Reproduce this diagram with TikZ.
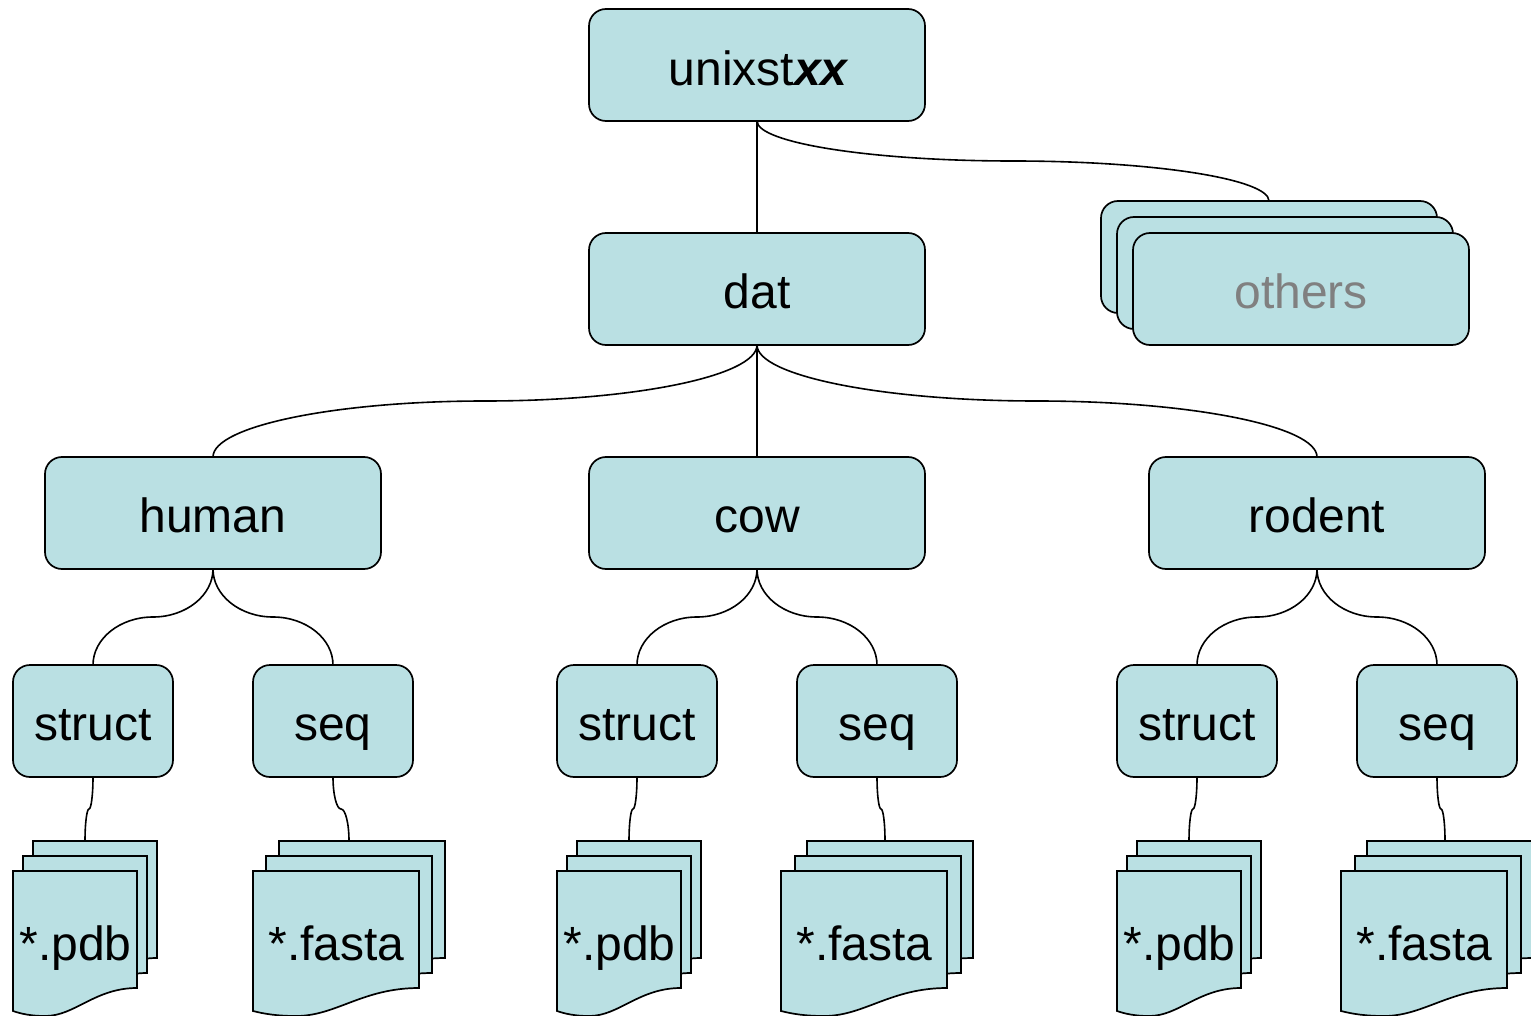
\documentclass[tikz,border=0pt]{standalone}
\usepackage{fontspec}
\setmainfont{Liberation Sans}
\usetikzlibrary{calc}
\definecolor{boxfill}{HTML}{BAE0E3}
\tikzset{
  x=0.5pt,y=-0.5pt,
  base/.style={inner sep=0pt,outer sep=0pt,align=center,font=\fontsize{24}{28}\selectfont,text height=24pt,text depth=5pt},
  box/.style={base,draw=black,fill=boxfill,line width=0.85pt,rounded corners=8.5pt},
  widebox/.style={box,minimum width=168pt,minimum height=56pt},
  smallbox/.style={box,minimum width=80pt,minimum height=56pt},
  doctext/.style={base},
  sheetline/.style={draw=black,fill=boxfill,line width=0.85pt,line join=miter},
  link/.style={draw=black,line width=0.8pt}
}
% sheet: left, top, width
\newcommand{\docsheet}[3]{%
  \begin{scope}[shift={(#1,#2)},xscale=#3]
    \path[sheetline] (0,0) -- (1,0) -- (1,117)
      .. controls (0.66,117) and (0.50,145) .. (0.26,145)
      .. controls (0.15,145) and (0.07,143) .. (0,140) -- cycle;
  \end{scope}}
% id, left, width, offset1, offset2, text, connector x
\newcommand{\docstack}[7]{%
  \docsheet{#2+#5}{841}{#3}
  \docsheet{#2+#4}{856}{#3}
  \docsheet{#2}{871}{#3}
  \node[doctext] (#1) at ({#2+#3/2+0.5},941) {#6};
  \coordinate (#1-top) at (#7,841);}
% curved connector through midpoint
\newcommand{\bend}[2]{%
  \draw[link] let \p1=($(#1)!.5!(#2)$) in
    (#1) .. controls ($(#1)!.55!(#1 |- \p1)$) and ($(\p1)!.55!(#1 |- \p1)$) .. (\p1)
    .. controls ($(\p1)!.55!(#2 |- \p1)$) and ($(#2)!.55!(#2 |- \p1)$) .. (#2);}
\begin{document}
\begin{tikzpicture}
\clip (0,0) rectangle (1531,1016);
% others stack
\node[widebox] (oth1) at (1269,257) {};
\node[widebox] (oth2) at (1285,273) {};
\node[widebox,text=black!50] (others) at (1301,289) {others};
% main boxes
\node[widebox,text depth=3.5pt] (root) at (757,65) {\hspace{2pt}unixst\textbf{\textit{xx}}};
\node[widebox] (dat) at (757,289) {dat};
\node[widebox] (human) at (213,513) {human};
\node[widebox] (cow) at (757,513) {cow};
\node[widebox] (rodent) at (1317,513) {rodent};
\node[smallbox] (s1) at (93,721) {struct};
\node[smallbox] (q1) at (333,721) {seq};
\node[smallbox] (s2) at (637,721) {struct};
\node[smallbox] (q2) at (877,721) {seq};
\node[smallbox] (s3) at (1197,721) {struct};
\node[smallbox] (q3) at (1437,721) {seq};
% documents
\docstack{p1}{13}{124}{10}{20}{*.pdb}{85}
\docstack{f1}{253}{166}{13}{26}{*.fasta}{349}
\docstack{p2}{557}{124}{10}{20}{*.pdb}{629}
\docstack{f2}{781}{166}{14}{26}{*.fasta}{885}
\docstack{p3}{1117}{124}{10}{20}{*.pdb}{1189}
\docstack{f3}{1341}{166}{14}{26}{*.fasta}{1445}
% connectors
\draw[link] (root.south) -- (dat.north);
\draw[link] (dat.south) -- (cow.north);
\bend{root.south}{oth1.north}
\bend{dat.south}{human.north}
\bend{dat.south}{rodent.north}
\bend{human.south}{s1.north}
\bend{human.south}{q1.north}
\bend{cow.south}{s2.north}
\bend{cow.south}{q2.north}
\bend{rodent.south}{s3.north}
\bend{rodent.south}{q3.north}
\bend{s1.south}{p1-top}
\bend{q1.south}{f1-top}
\bend{s2.south}{p2-top}
\bend{q2.south}{f2-top}
\bend{s3.south}{p3-top}
\bend{q3.south}{f3-top}
\end{tikzpicture}
\end{document}
